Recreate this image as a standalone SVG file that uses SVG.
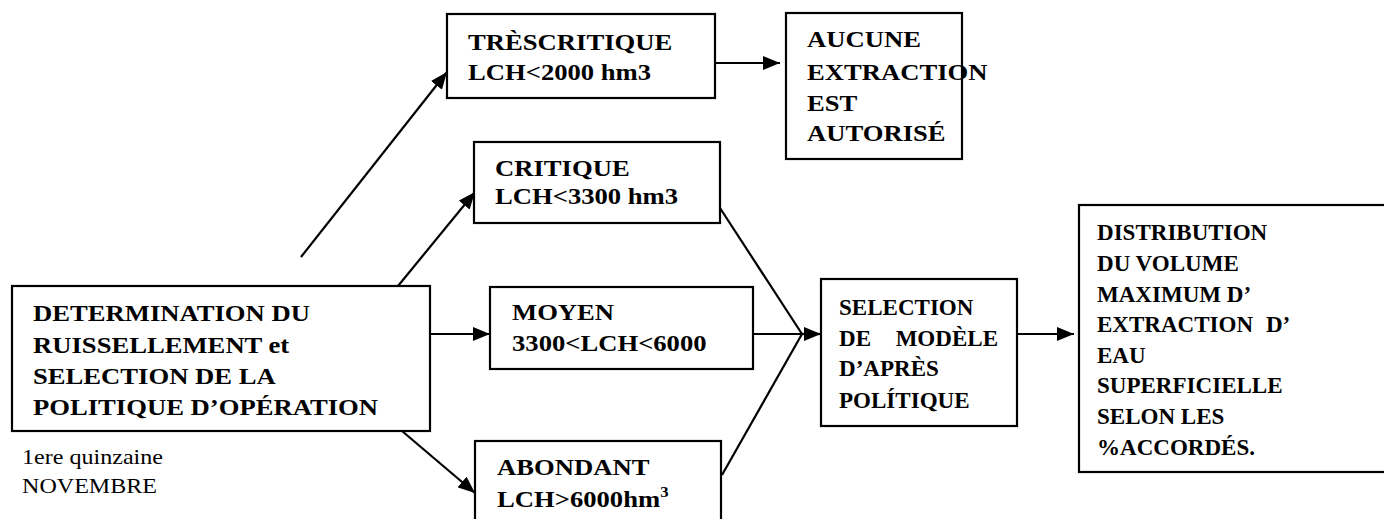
<svg xmlns="http://www.w3.org/2000/svg" width="1384" height="519" viewBox="0 0 1384 519">
<defs>
<marker id="ah" markerUnits="userSpaceOnUse" markerWidth="18" markerHeight="14" refX="17" refY="7" orient="auto">
<path d="M0,0 L17,7 L0,14 z" fill="#000"/>
</marker>
</defs>
<style>
rect.box{fill:#fff;stroke:#000;stroke-width:2.2}
.t{font-family:"Liberation Serif","Times New Roman",serif;font-weight:bold;font-size:24px;fill:#000}
.n{font-family:"Liberation Serif","Times New Roman",serif;font-size:21.5px;fill:#000}
.c line{stroke:#000;stroke-width:2.2;fill:none}
.c line.a{marker-end:url(#ah)}
</style>
<rect width="1384" height="519" fill="#fff"/>
<g class="c" id="connectors">
<line class="a" x1="301" y1="257" x2="447" y2="72"/>
<line class="a" x1="398" y1="286" x2="475" y2="192"/>
<line class="a" x1="430" y1="334" x2="490" y2="334"/>
<line class="a" x1="402" y1="431" x2="475" y2="493"/>
<line x1="720" y1="208" x2="802" y2="334"/>
<line x1="753" y1="334" x2="802" y2="334"/>
<line x1="722" y1="475" x2="802" y2="334"/>
<line class="a" x1="802" y1="334" x2="821" y2="334"/>
<line class="a" x1="1017" y1="334" x2="1074" y2="334"/>
<line class="a" x1="715" y1="63" x2="780" y2="63"/>
</g>
<g id="n-determination">
<rect class="box" x="12" y="286" width="418" height="145"/>
<g class="t" transform="translate(33,0) scale(1.11,1)">
<text x="0" y="321">DETERMINATION DU</text>
<text x="0" y="353">RUISSELLEMENT et</text>
<text x="0" y="384">SELECTION DE LA</text>
<text x="0" y="415">POLITIQUE D’OPÉRATION</text>
</g>
</g>
<g id="n-quinzaine" class="n" transform="translate(22,0) scale(1.12,1)">
<text x="0" y="464">1ere quinzaine</text>
<text x="0" y="493">NOVEMBRE</text>
</g>
<g id="n-trescritique">
<rect class="box" x="447" y="14" width="268" height="84"/>
<g class="t" transform="translate(468,0) scale(1.11,1)">
<text x="0" y="50">TRÈSCRITIQUE</text>
<text x="0" y="80">LCH&lt;2000 hm3</text>
</g>
</g>
<g id="n-aucune">
<rect class="box" x="786" y="13" width="176" height="146"/>
<g class="t" transform="translate(807,0) scale(1.11,1)">
<text x="0" y="47">AUCUNE</text>
<text x="0" y="80">EXTRACTION</text>
<text x="0" y="111">EST</text>
<text x="0" y="141">AUTORISÉ</text>
</g>
</g>
<g id="n-critique">
<rect class="box" x="474" y="142" width="246" height="81"/>
<g class="t" transform="translate(495,0) scale(1.11,1)">
<text x="0" y="176">CRITIQUE</text>
<text x="0" y="204">LCH&lt;3300 hm3</text>
</g>
</g>
<g id="n-moyen">
<rect class="box" x="490" y="287" width="263" height="82"/>
<g class="t" transform="translate(512,0) scale(1.11,1)">
<text x="0" y="320">MOYEN</text>
<text x="0" y="351">3300&lt;LCH&lt;6000</text>
</g>
</g>
<g id="n-abondant">
<rect class="box" x="475" y="441" width="246" height="90"/>
<g class="t" transform="translate(497,0) scale(1.11,1)">
<text x="0" y="475">ABONDANT</text>
<text x="0" y="507">LCH&gt;6000hm<tspan font-size="15" dy="-10">3</tspan></text>
</g>
</g>
<g id="n-selection">
<rect class="box" x="821" y="279" width="196" height="147"/>
<g class="t" transform="translate(839,0) scale(0.96,1)">
<text x="0" y="315">SELECTION</text>
<text x="0" y="346">DE<tspan x="59">MODÈLE</tspan></text>
<text x="0" y="376">D’APRÈS</text>
<text x="0" y="408">POLÍTIQUE</text>
</g>
</g>
<g id="n-distribution">
<rect class="box" x="1079" y="205" width="310" height="267"/>
<g class="t" transform="translate(1097,0) scale(0.96,1)">
<text x="0" y="240">DISTRIBUTION</text>
<text x="0" y="271">DU VOLUME</text>
<text x="0" y="302">MAXIMUM D’</text>
<text x="0" y="332">EXTRACTION<tspan x="176">D’</tspan></text>
<text x="0" y="363">EAU</text>
<text x="0" y="393">SUPERFICIELLE</text>
<text x="0" y="424">SELON LES</text>
<text x="0" y="455">%ACCORDÉS.</text>
</g>
</g>
</svg>
